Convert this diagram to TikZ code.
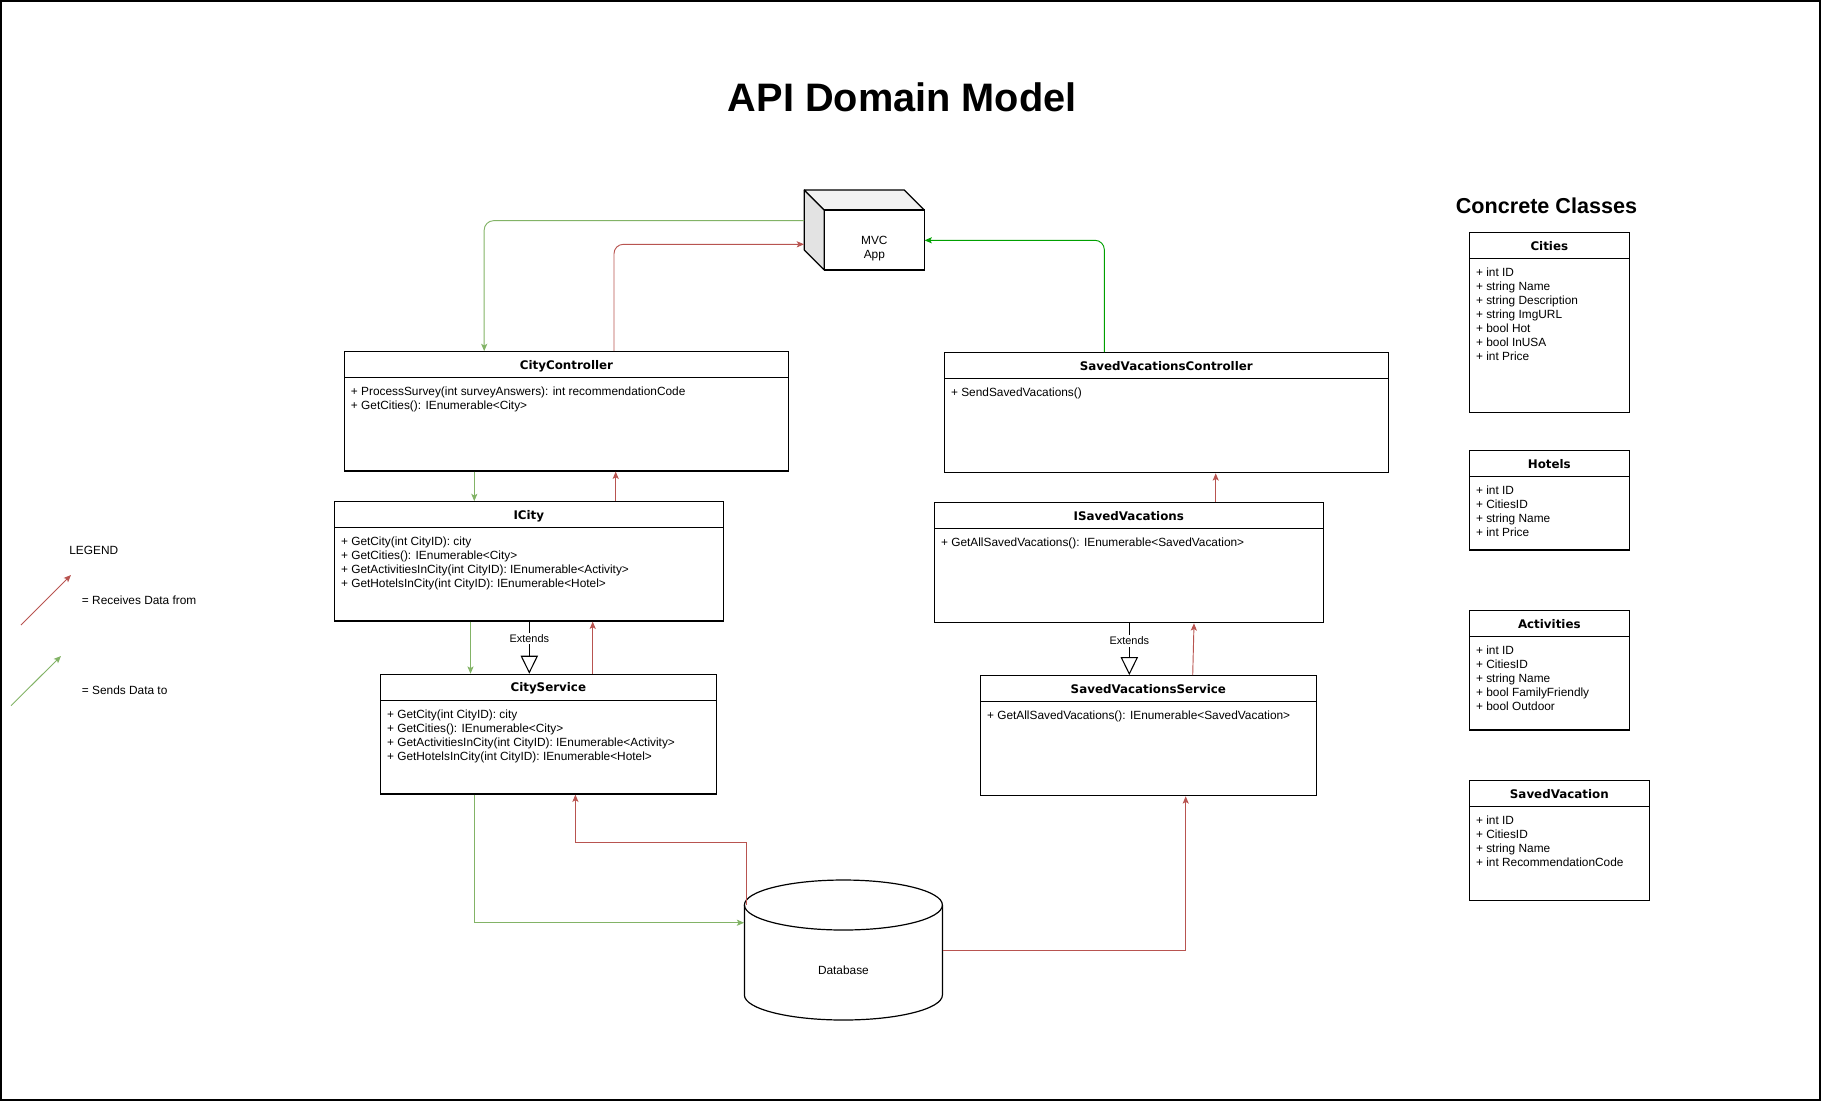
\documentclass[tikz,border=0pt]{standalone}
\usepackage{fontspec}
\setmainfont{Liberation Sans}
\newfontfamily\clsfont{DejaVu Sans}
\usetikzlibrary{arrows.meta,fit,calc}

\definecolor{recvred}{HTML}{B85450}
\definecolor{sendgreen}{HTML}{82B366}
\definecolor{appgreen}{HTML}{00A000}
\definecolor{cubetop}{HTML}{F2F2F2}
\definecolor{cubeside}{HTML}{E3E3E3}

\tikzset{
  umlbox/.style={draw=black, line width=0.9pt, inner sep=0pt, fill=white},
  clstitle/.style={anchor=base, inner sep=0pt, font=\clsfont\bfseries\fontsize{8.9}{10.5}\selectfont},
  members/.style={anchor=north west, inner sep=0pt, align=left, font=\fontsize{8.9}{10.5}\selectfont},
  plain/.style={anchor=base, inner sep=0pt, font=\fontsize{8.9}{10.5}\selectfont},
  flowtip/.style={-{Stealth[length=5.5pt,width=4.6pt,inset=1.3pt]}},
  recv/.style={draw=recvred, line width=0.7pt, flowtip},
  send/.style={draw=sendgreen, line width=0.7pt, flowtip},
  appsend/.style={draw=appgreen, line width=0.7pt, flowtip},
  extends/.style={draw=black, line width=0.8pt, -{Triangle[open,length=13.5pt,width=13pt,fill=white]}},
  extlabel/.style={fill=white, inner sep=1.2pt, font=\fontsize{8.2}{10}\selectfont},
}

% class box: name, x1, y1, x2, y2, title, members (pixel units, y downwards)
\newcommand\classbox[7]{%
  \node[umlbox, fit={(#2,#3) (#4,#5)}] (#1) {};
  \draw[line width=0.9pt] ({#2},{#3+26}) -- ({#4},{#3+26});
  \node[clstitle] (#1-title) at ({(#2+#4)/2},{#3+17.3}) {#6};
  \node[members] (#1-members) at ({#2+6.5},{#3+33.9}) {\strut #7};
}

\begin{document}
\begin{tikzpicture}[x=0.75pt,y=-0.75pt]
  \useasboundingbox (0,0) rectangle (1822,1101);
  \draw[line width=1.5pt] (1,1) rectangle (1820,1100);

  % headings
  \node[anchor=base, inner sep=0pt, font=\bfseries\fontsize{29.8}{36}\selectfont] (heading) at (902.2,111.7) {API Domain Model};
  \node[anchor=base, inner sep=0pt, font=\bfseries\fontsize{16.2}{19}\selectfont] (concrete) at (1546.5,213.3) {Concrete Classes};

  % MVC application (3D box)
  \node[fit={(804.3,190) (924.3,270)}, inner sep=0pt] (mvc) {};
  \filldraw[fill=cubeside, line width=0.9pt, line join=round] (804.3,190) -- (824.3,210) -- (824.3,270) -- (804.3,250) -- cycle;
  \filldraw[fill=cubetop, line width=0.9pt, line join=round] (804.3,190) -- (904.3,190) -- (924.3,210) -- (824.3,210) -- cycle;
  \filldraw[fill=white, line width=0.9pt] (824.3,210) rectangle (924.3,270);
  \node[members, anchor=north, align=center] (mvc-label) at (874.3,234.5) {\strut MVC\\App};

  % database (cylinder)
  \node[fit={(744.4,880) (942.4,1020)}, inner sep=0pt] (db) {};
  \filldraw[fill=white, line width=0.9pt] (744.4,905) -- (744.4,995)
      arc[start angle=180, end angle=360, x radius=74.25pt, y radius=18.75pt] -- (942.4,905);
  \draw[line width=0.9pt] (843.4,905) ellipse [x radius=74.25pt, y radius=18.75pt];
  \node[plain] (db-label) at (843.4,974.3) {Database};

  % city side
  \classbox{cityctrl}{344.2}{351.7}{788.7}{471}{CityController}
    {+ ProcessSurvey(int surveyAnswers): int recommendationCode\\+ GetCities(): IEnumerable<City>}
  \classbox{icity}{334.3}{501.7}{723.3}{621}{ICity}
    {+ GetCity(int CityID): city\\+ GetCities(): IEnumerable<City>\\+ GetActivitiesInCity(int CityID): IEnumerable<Activity>\\+ GetHotelsInCity(int CityID): IEnumerable<Hotel>}
  \classbox{citysvc}{380.3}{674.3}{716.3}{794}{CityService}
    {+ GetCity(int CityID): city\\+ GetCities(): IEnumerable<City>\\+ GetActivitiesInCity(int CityID): IEnumerable<Activity>\\+ GetHotelsInCity(int CityID): IEnumerable<Hotel>}

  % saved vacations side
  \classbox{svctrl}{944.3}{352.7}{1388.3}{472.7}{SavedVacationsController}
    {+ SendSavedVacations()}
  \classbox{isaved}{934.3}{502.7}{1323.3}{622.7}{ISavedVacations}
    {+ GetAllSavedVacations(): IEnumerable<SavedVacation>}
  \classbox{svsvc}{980.3}{675.7}{1316.3}{795.7}{SavedVacationsService}
    {+ GetAllSavedVacations(): IEnumerable<SavedVacation>}

  % concrete classes
  \classbox{cities}{1469.3}{232.7}{1629.3}{412.7}{Cities}
    {+ int ID\\+ string Name\\+ string Description\\+ string ImgURL\\+ bool Hot\\+ bool InUSA\\+ int Price}
  \classbox{hotels}{1469.3}{450.7}{1629.3}{550}{Hotels}
    {+ int ID\\+ CitiesID\\+ string Name\\+ int Price}
  \classbox{activities}{1469.3}{610.7}{1629.3}{730}{Activities}
    {+ int ID\\+ CitiesID\\+ string Name\\+ bool FamilyFriendly\\+ bool Outdoor}
  \classbox{savedvac}{1469.3}{780.7}{1649.3}{900.7}{SavedVacation}
    {+ int ID\\+ CitiesID\\+ string Name\\+ int RecommendationCode}

  % data flow between MVC app and controllers
  \draw[send, rounded corners=7pt] (mvc.west |- 0,220.7) -| (cityctrl.north -| 484.2,0);
  \draw[recv, rounded corners=7pt] (cityctrl.north -| 614,0) |- (mvc.west |- 0,244.3);
  \draw[appsend, rounded corners=7pt] (svctrl.north -| 1104.3,0) |- (mvc.east |- 0,240.3);

  % city chain
  \draw[send] (cityctrl.south -| 474.3,0) -- (icity.north -| 474.3,0);
  \draw[recv] (icity.north -| 615.7,0) -- (cityctrl.south -| 615.7,0);
  \draw[send] (icity.south -| 470.5,0) -- (citysvc.north -| 470.5,0);
  \draw[recv] (citysvc.north -| 592.7,0) -- (icity.south -| 592.7,0);
  \draw[extends] (icity.south -| 529.3,0) -- node[extlabel, pos=0.33] (icity-ext) {Extends} (citysvc.north -| 529.3,0);

  % saved vacations chain
  \draw[recv] (isaved.north -| 1215.7,0) -- (svctrl.south -| 1215.7,0);
  \draw[recv] (svsvc.north -| 1192.7,0) -- (isaved.south -| 1194,0);
  \draw[extends] (isaved.south -| 1129.3,0) -- node[extlabel, pos=0.34] (isaved-ext) {Extends} (svsvc.north -| 1129.3,0);

  % database connections
  \coordinate (db-top) at (746.5,905);
  \draw[send] (citysvc.south -| 474.4,0) |- (db.west |- 0,922.7);
  \draw[recv] (db-top) |- (575.4,842.3) -- (citysvc.south -| 575.4,0);
  \draw[recv] (db.east |- 0,950) -| (svsvc.south -| 1185.7,0);

  % legend
  \node[plain] (legend) at (93.8,554.3) {LEGEND};
  \coordinate (lr-a) at (21,625);
  \coordinate (lr-b) at (71,575);
  \coordinate (lg-a) at (11,705.7);
  \coordinate (lg-b) at (61,656);
  \draw[recv] (lr-a) -- (lr-b);
  \draw[send] (lg-a) -- (lg-b);
  \node[plain, anchor=base west] (legend-recv) at (81.7,604.3) {= Receives Data from};
  \node[plain, anchor=base west] (legend-send) at (81.7,694.3) {= Sends Data to};
\end{tikzpicture}
\end{document}
